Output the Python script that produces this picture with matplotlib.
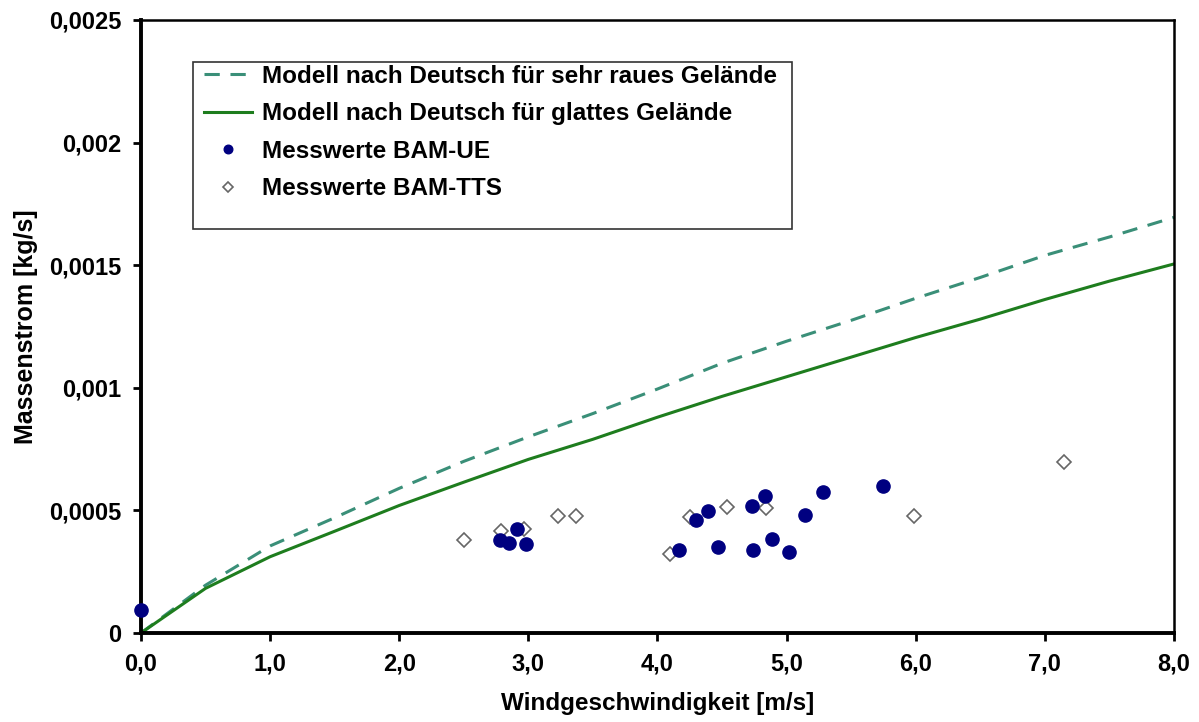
import numpy as np
import matplotlib
matplotlib.use('Agg')
import matplotlib.pyplot as plt
from matplotlib.patches import Rectangle
from matplotlib.ticker import FuncFormatter

plt.rcParams['font.family'] = ['Liberation Sans', 'DejaVu Sans']

# model curves
wind_model = [0.0, 0.5, 1.0, 1.5, 2.0, 2.5, 3.0, 3.5, 4.0, 4.5, 5.0, 5.5, 6.0, 6.5, 7.0, 7.5, 8.0]
flow_rough = [0.0, 0.000195, 0.000355, 0.000470, 0.000590, 0.000700, 0.000800, 0.000895, 0.000995,
              0.001100, 0.001190, 0.001275, 0.001365, 0.001450, 0.001540, 0.001615, 0.001695]
flow_smooth = [0.0, 0.000182, 0.000311, 0.000415, 0.000520, 0.000615, 0.000708, 0.000790, 0.000880,
               0.000965, 0.001045, 0.001125, 0.001205, 0.001280, 0.001360, 0.001435, 0.001505]

# measurements BAM-UE
ue_wind = [0.0, 2.78, 2.85, 2.91, 2.98, 4.17, 4.30, 4.39, 4.47, 4.73, 4.74, 4.83, 4.89, 5.02, 5.14, 5.28, 5.75]
ue_flow = [0.000095, 0.000379, 0.000368, 0.000425, 0.000363, 0.000338, 0.000461, 0.000497, 0.000349,
           0.000517, 0.000338, 0.000557, 0.000385, 0.000329, 0.000481, 0.000574, 0.000598]

# measurements BAM-TTS
tts_wind = [2.50, 2.79, 2.97, 3.23, 3.37, 4.10, 4.25, 4.54, 4.84, 5.99, 7.15]
tts_flow = [0.000379, 0.000417, 0.000423, 0.000477, 0.000477, 0.000323, 0.000473, 0.000514,
            0.000511, 0.000478, 0.000696]

x_ticks = [0, 1, 2, 3, 4, 5, 6, 7, 8]
y_ticks = [0, 0.0005, 0.001, 0.0015, 0.002, 0.0025]
y_tick_labels = ['0', '0,0005', '0,001', '0,0015', '0,002', '0,0025']

fig = plt.figure(figsize=(11.99, 7.22), dpi=100)
ax = fig.add_axes([0.1176, 0.1233, 0.8615, 0.849])

ax.plot(wind_model, flow_rough, color='#3a8f78', lw=2.2, dashes=(5, 3.5),
        label='Modell nach Deutsch für sehr raues Gelände')
ax.plot(wind_model, flow_smooth, color='#1e7d1e', lw=2.2,
        label='Modell nach Deutsch für glattes Gelände')
ax.plot(ue_wind, ue_flow, 'o', ms=9.5, color='#000080', mec='#000080', clip_on=False,
        label='Messwerte BAM-UE', zorder=4)
ax.plot(tts_wind, tts_flow, 'D', ms=7.3, mfc='white', mec='#666666', mew=1.2, clip_on=False,
        label='Messwerte BAM-TTS', zorder=3)

ax.set_xlim(0, 8)
ax.set_ylim(0, 0.0025)
ax.set_xticks(x_ticks)
ax.xaxis.set_major_formatter(FuncFormatter(lambda v, p: f'{v:.1f}'.replace('.', ',')))
ax.set_yticks(y_ticks)
ax.set_yticklabels(y_tick_labels)

for lab in ax.get_xticklabels() + ax.get_yticklabels():
    lab.set_fontweight('bold')
ax.tick_params(axis='both', direction='out', length=6, width=2, labelsize=17, pad=8)

ax.spines['left'].set_linewidth(2.8)
ax.spines['bottom'].set_linewidth(2.8)
ax.spines['top'].set_linewidth(1.8)
ax.spines['right'].set_linewidth(1.8)

ax.set_xlabel('Windgeschwindigkeit [m/s]', fontsize=17.5, fontweight='bold', labelpad=12)
ax.set_ylabel('Massenstrom [kg/s]', fontsize=18, fontweight='bold', labelpad=8)

# legend box is taller at the bottom than the entries need, so draw it separately
ax.add_patch(Rectangle((0.0503, 0.659), 0.5797, 0.2725, transform=ax.transAxes,
                       facecolor='white', edgecolor='#333333', lw=1.2, zorder=5))
leg = ax.legend(loc='upper left', bbox_to_anchor=(0.05, 0.945), frameon=False,
                prop={'weight': 'bold', 'size': 17.5}, handlelength=2.0,
                handletextpad=0.4, labelspacing=0.6, borderpad=0.45, borderaxespad=0,
                markerscale=0.65)
leg.set_zorder(6)

fig.savefig('out.png', dpi=100)
